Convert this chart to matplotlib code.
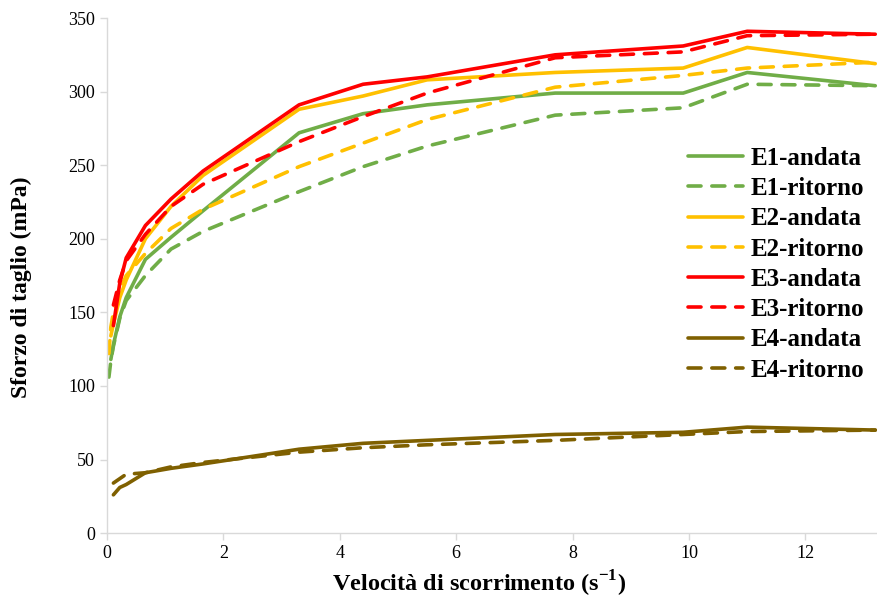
import numpy as np
import matplotlib.pyplot as plt

# velocita' di scorrimento (s^-1), comune a tutte le serie
shear_rate = [0.033, 0.066, 0.11, 0.22, 0.33, 0.66, 1.1, 1.65, 3.3, 4.4, 5.5, 7.7, 9.9, 11.0, 13.2]
nan = np.nan

# sforzo di taglio (mPa)
e1_andata = [nan, 118, 128, 147, 160, 186, 201, 219, 272, 285, 291, 299, 299, 313, 304]
e1_ritorno = [106, 117, 127, 146, 158, 175, 193, 205, 232, 249, 263, 284, 289, 305, 304]
e2_andata = [nan, 134, 142, 160, 172, 200, 222, 243, 288, 297, 308, 313, 316, 330, 319]
e2_ritorno = [122, 140, 150, 165, 175, 190, 207, 220, 249, 265, 281, 303, 311, 316, 320]
e3_andata = [nan, nan, 141, 170, 187, 209, 227, 246, 291, 305, 310, 325, 331, 341, 339]
e3_ritorno = [nan, nan, 155, 172, 185, 203, 222, 237, 266, 283, 299, 323, 327, 338, 339]
e4_andata = [nan, nan, 26, 31, 33, 41, 44, 47, 57, 61, 63, 67, 68.5, 72, 70]
e4_ritorno = [nan, nan, 34, 37, 40, 41, 45, 48, 55, 58, 60, 63, 67, 69, 70]

series = [
    ("E1-andata", e1_andata, "#70AD47", "-"),
    ("E1-ritorno", e1_ritorno, "#70AD47", "--"),
    ("E2-andata", e2_andata, "#FFC000", "-"),
    ("E2-ritorno", e2_ritorno, "#FFC000", "--"),
    ("E3-andata", e3_andata, "#FF0000", "-"),
    ("E3-ritorno", e3_ritorno, "#FF0000", "--"),
    ("E4-andata", e4_andata, "#7F6000", "-"),
    ("E4-ritorno", e4_ritorno, "#7F6000", "--"),
]

plt.rcParams['font.family'] = ['Liberation Serif', 'DejaVu Serif']

fig = plt.figure(figsize=(8.77, 6.01), dpi=100)
ax = fig.add_axes([0.122, 0.113, 0.878, 0.857])

for name, vals, col, ls in series:
    line, = ax.plot(shear_rate, vals, color=col, lw=2.6, label=name,
                    solid_capstyle='round', dash_capstyle='round')
    if ls == "--":
        line.set_dashes((3.6, 3.0))

ax.set_xlim(0, 13.23)
ax.set_ylim(0, 350)
ax.set_xticks(np.arange(0, 13, 2))
ax.set_yticks(np.arange(0, 351, 50))

for s in ['top', 'right']:
    ax.spines[s].set_visible(False)
for s in ['left', 'bottom']:
    ax.spines[s].set_color('#d9d9d9')
    ax.spines[s].set_linewidth(1.0)
ax.tick_params(axis='both', colors='#d9d9d9', labelcolor='black',
               labelsize=13, length=5, width=1.0, direction='out')

ax.set_xlabel("Velocità di scorrimento (s$^{\\mathregular{-1}}$)", fontsize=17.5,
              fontweight='bold')
ax.set_ylabel("Sforzo di taglio (mPa)", fontsize=17, fontweight='bold')
ax.xaxis.set_label_coords(0.483, -0.07)
ax.yaxis.set_label_coords(-0.097, 0.478)

leg = ax.legend(loc='upper left', bbox_to_anchor=(0.7545, 0.75), frameon=False,
                prop={'size': 18, 'weight': 'bold'}, handlelength=2.2,
                handletextpad=0.3, labelspacing=0.29, borderaxespad=0,
                borderpad=0)

fig.savefig("out.png", dpi=100)
plt.close(fig)
